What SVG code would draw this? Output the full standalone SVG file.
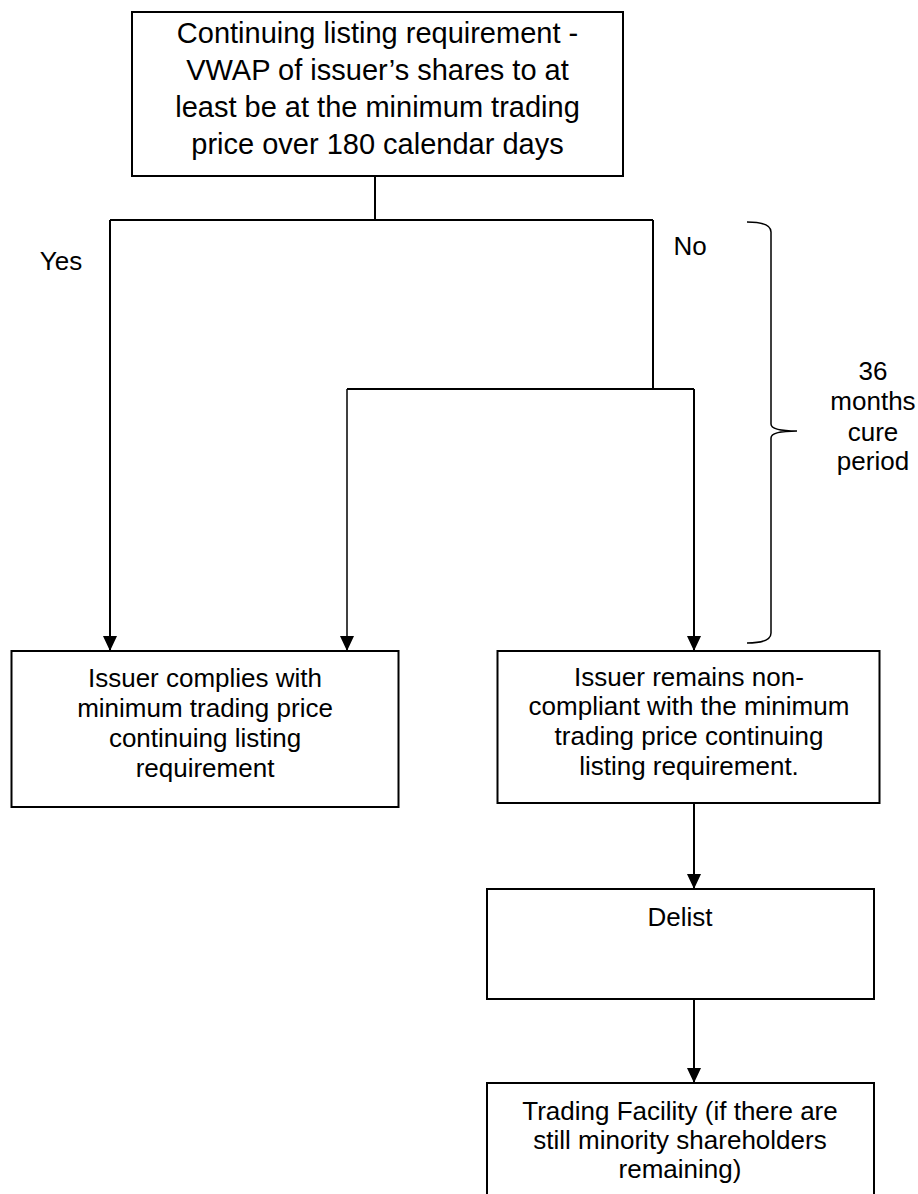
<svg xmlns="http://www.w3.org/2000/svg" width="918" height="1194" viewBox="0 0 918 1194">
<style>
.box{fill:#fff;stroke:#000;stroke-width:2}
.t{font-family:"Liberation Sans",Arial,sans-serif;font-size:26px;fill:#000;text-anchor:middle}
.tt{font-size:29px}
.c{fill:none;stroke:#000;stroke-width:2}
.thin{stroke-width:1.5}
</style>
<defs>
<marker id="ah" viewBox="0 0 15 14" refX="15" refY="7" markerWidth="15" markerHeight="14" markerUnits="userSpaceOnUse" orient="auto">
<path d="M0,0 L15,7 L0,14 z" fill="#000"/>
</marker>
</defs>
<g id="connectors">
<path class="c" d="M375,176 V220"/>
<path class="c" d="M110,220 H653"/>
<path class="c" d="M110,220 V651" marker-end="url(#ah)"/>
<path class="c" d="M653,220 V389"/>
<path class="c" d="M347,389 H694"/>
<path class="c thin" d="M347,389 V651" marker-end="url(#ah)"/>
<path class="c" d="M694,389 V651" marker-end="url(#ah)"/>
<path class="c" d="M694,803 V889" marker-end="url(#ah)"/>
<path class="c" d="M694,999 V1083" marker-end="url(#ah)"/>
</g>
<g id="brace">
<path class="c thin" d="M747,222 Q771,222 771,232 L771,424 Q771,431 797,431 Q771,431 771,438 L771,633 Q771,643 747,643"/>
</g>
<g id="label-yes"><text class="t" x="61" y="270">Yes</text></g>
<g id="label-no"><text class="t" x="690" y="255">No</text></g>
<g id="label-cure">
<text class="t" x="873" y="380">36</text>
<text class="t" x="873" y="410">months</text>
<text class="t" x="873" y="441">cure</text>
<text class="t" x="873" y="470">period</text>
</g>
<g id="node-start">
<rect class="box" x="132" y="12" width="491" height="164"/>
<text class="t tt" x="377.5" y="43">Continuing listing requirement -</text>
<text class="t tt" x="377.5" y="80">VWAP of issuer’s shares to at</text>
<text class="t tt" x="377.5" y="117">least be at the minimum trading</text>
<text class="t tt" x="377.5" y="154">price over 180 calendar days</text>
</g>
<g id="node-complies">
<rect class="box" x="11.5" y="651" width="387" height="156"/>
<text class="t" x="205" y="687">Issuer complies with</text>
<text class="t" x="205" y="717">minimum trading price</text>
<text class="t" x="205" y="747">continuing listing</text>
<text class="t" x="205" y="777">requirement</text>
</g>
<g id="node-noncompliant">
<rect class="box" x="497.5" y="651" width="382" height="152"/>
<text class="t" x="689" y="686">Issuer remains non-</text>
<text class="t" x="689" y="715">compliant with the minimum</text>
<text class="t" x="689" y="745">trading price continuing</text>
<text class="t" x="689" y="775">listing requirement.</text>
</g>
<g id="node-delist">
<rect class="box" x="487" y="889" width="387" height="110"/>
<text class="t" x="680" y="926">Delist</text>
</g>
<g id="node-trading">
<rect class="box" x="487" y="1083" width="387" height="140"/>
<text class="t" x="680" y="1120">Trading Facility (if there are</text>
<text class="t" x="680" y="1149">still minority shareholders</text>
<text class="t" x="680" y="1178">remaining)</text>
</g>
</svg>
